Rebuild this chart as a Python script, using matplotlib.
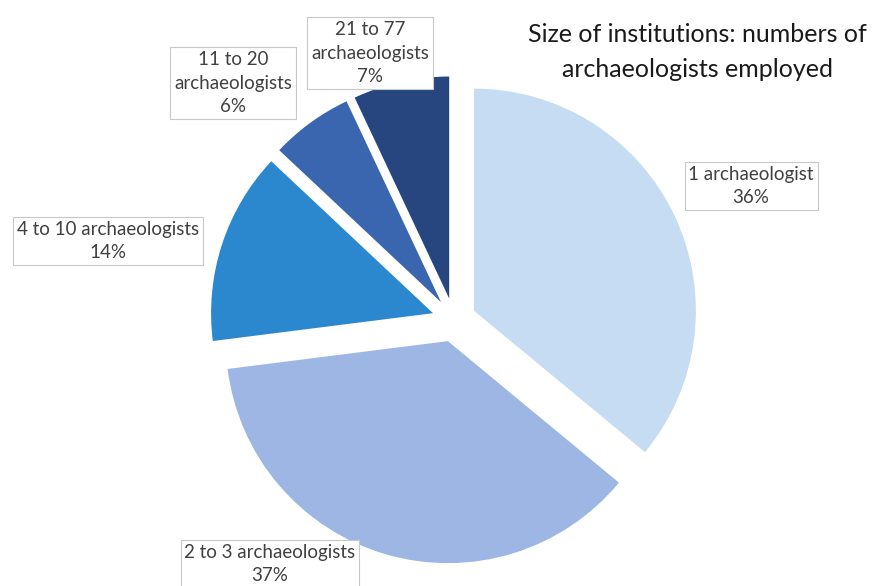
import matplotlib.pyplot as plt

# Datos del grafico
categorias = ["1 archaeologist", "2 to 3 archaeologists", "4 to 10 archaeologists",
              "11 to 20\narchaeologists", "21 to 77\narchaeologists"]
porcentajes = [36, 37, 14, 6, 7]
colores = ["#C5DCF2", "#9DB6E3", "#2B88CF", "#3A66B0", "#27467F"]

# Posiciones de las etiquetas (pixeles, origen arriba a la izquierda)
pos_etiquetas = [(751, 186), (270, 564), (108, 241), (233, 83), (370, 53)]

W, H = 877, 586
fig = plt.figure(figsize=(W / 100, H / 100), dpi=100)
ax = fig.add_axes([0, 0, 1, 1])

ax.pie(porcentajes, colors=colores, startangle=90, counterclock=False,
       radius=222, center=(454, H - 320), explode=[22] * 5,
       wedgeprops=dict(linewidth=0))

ax.set_xlim(0, W)
ax.set_ylim(0, H)
ax.set_aspect("auto")
ax.axis("off")

fuente = ["Lato", "DejaVu Sans"]
for nombre, valor, (x, y) in zip(categorias, porcentajes, pos_etiquetas):
    ax.text(x, H - y, f"{nombre}\n{valor}%", ha="center", va="center",
            fontsize=13.5, color="#404040", family=fuente, linespacing=1.45,
            bbox=dict(boxstyle="square,pad=0.2", fc="white", ec="#C8C8C8", lw=0.8))

ax.text(697, H - 52, "Size of institutions: numbers of\narchaeologists employed",
        ha="center", va="center", fontsize=18, color="#1A1A1A", family=fuente,
        linespacing=1.6)

fig.savefig("out.png", dpi=100)
